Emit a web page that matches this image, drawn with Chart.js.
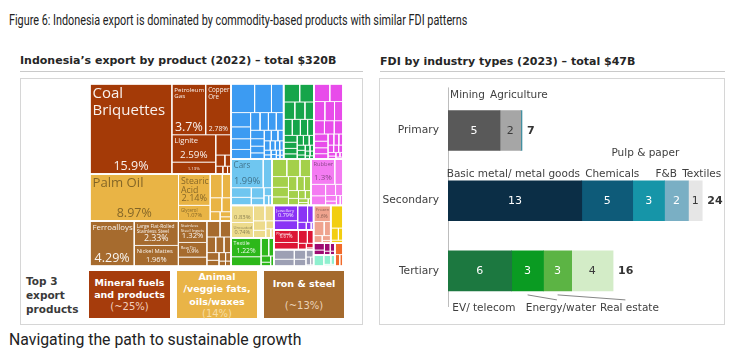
<!DOCTYPE html>
<html><head><meta charset="utf-8">
<script src="https://cdn.jsdelivr.net/npm/chart.js@4.4.0/dist/chart.umd.min.js"></script>
<style>
html,body{margin:0;padding:0;background:#fff;}
body{width:755px;height:356px;position:relative;overflow:hidden;font-family:"DejaVu Sans",sans-serif;}
.abs{position:absolute;white-space:nowrap;}
#title{left:9px;top:12px;font-family:Roboto;font-size:14px;line-height:16px;color:#222;transform-origin:0 0;}
#caption{left:9px;top:331px;font-family:Roboto;font-size:15.8px;line-height:18px;color:#222;}
.hdr{font-weight:bold;font-size:11px;line-height:13px;color:#262626;}
.rule{position:absolute;height:1px;background:#CACACA;}
.panel{position:absolute;border:1px solid #D6D6D6;box-sizing:border-box;}
.box{position:absolute;color:#fff;text-align:center;font-size:9.5px;box-sizing:border-box;white-space:nowrap;}
.box .sub{font-weight:normal;font-size:10px;}
#top3{left:26px;top:274px;font-weight:bold;font-size:10.5px;line-height:14px;color:#3A3A3A;}
</style></head>
<body>
<div id="title" class="abs">Figure 6: Indonesia export is dominated by commodity-based products with similar FDI patterns</div>

<div class="abs hdr" style="left:20px;top:54px;">Indonesia’s export by product (2022) – total $320B</div>
<div class="rule" style="left:20px;top:71px;width:343px;"></div>
<div class="panel" style="left:20px;top:78px;width:343px;height:247px;"></div>

<div class="abs hdr" style="left:380px;top:55px;">FDI by industry types (2023) – total $47B</div>
<div class="rule" style="left:380px;top:71px;width:345px;"></div>
<div class="panel" style="left:379px;top:78px;width:346px;height:247px;"></div>

<canvas id="tm" width="253" height="182" style="position:absolute;left:90px;top:84px;"></canvas>

<div id="top3" class="abs">Top 3<br>export<br>products</div>
<div class="box" style="left:89px;top:271px;width:81px;height:47px;background:#A63C0C;line-height:12px;padding-top:6px;"><b>Mineral fuels<br>and products</b><br><span class="sub" style="color:#F2D0BE;">(~25%)</span></div>
<div class="box" style="left:177px;top:271px;width:80px;height:47px;background:#E9B447;line-height:12.3px;padding-top:0px;"><b>Animal<br>/veggie fats,<br>oils/waxes</b><br><span class="sub" style="color:#F7DDA6;">(14%)</span></div>
<div class="box" style="left:264px;top:271px;width:80px;height:47px;background:#A46A2E;line-height:12px;padding-top:7px;"><b>Iron &amp; steel</b><div class="sub" style="margin-top:10px;color:#EBD3B8;">(~13%)</div></div>

<canvas id="fdi" width="344" height="244" style="position:absolute;left:380px;top:80px;"></canvas>

<div id="caption" class="abs">Navigating the path to sustainable growth</div>

<script>
// ================= TREEMAP DATA (share of total exports, %) =================
const mineralNames  = ['Coal Briquettes','Petroleum Gas','Copper Ore','Lignite','Refined Petroleum','Crude Petroleum'];
const mineralShares = [15.9,3.7,2.78,2.59,1.13,0.67,0.22,0.15,0.12,0.08,0.06];
const fatsNames  = ['Palm Oil','Stearic Acid','Glycerol','Coconut Oil'];
const fatsShares = [8.97,2.14,1.07,0.62,0.45,0.35,0.28,0.2,0.12,0.1];
const metalsNames  = ['Ferroalloys','Large Flat-Rolled Stainless Steel','Nickel Mattes','Stainless Steel Ingots','Raw Tin'];
const metalsShares = [4.29,2.33,1.96,1.32,0.90,0.55,0.45,0.38,0.3,0.28,0.24,0.2,0.15,0.12,0.1,0.07,0.06];
const machinesNames  = [];
const machinesShares = [1.45,1.04,0.75,0.6,0.5,0.45,0.4,0.36,0.32,0.3,0.28,0.25,0.22,0.2,0.18,0.16,0.15,0.13,0.12,0.1,0.09,0.08,0.07,0.06,0.05,0.05,0.04,0.04,0.03,0.03];
const textilesNames  = [];
const textilesShares = [0.62,0.55,0.42,0.38,0.34,0.3,0.28,0.25,0.22,0.2,0.18,0.16,0.15,0.13,0.12,0.1,0.09,0.08,0.07,0.06,0.05,0.05,0.04,0.03,0.03];
const chemicalsNames  = [];
const chemicalsShares = [0.6,0.5,0.45,0.4,0.35,0.3,0.28,0.25,0.22,0.2,0.18,0.16,0.14,0.12,0.1,0.09,0.08,0.07,0.06,0.05,0.04,0.03,0.03];
const transportNames  = ['Cars'];
const transportShares = [1.99,0.55,0.42,0.35,0.28,0.2,0.14,0.1,0.07];
const foodNames  = [];
const foodShares = [0.56,0.5,0.42,0.38,0.34,0.3,0.26,0.22,0.2,0.17,0.15,0.12,0.1,0.08,0.06,0.04];
const plasticsNames  = ['Rubber'];
const plasticsShares = [1.3,0.45,0.36,0.3,0.24,0.18,0.13,0.1,0.08,0.06];
const paperNames  = ['Sulfate Chemical Woodpulp','Uncoated Paper'];
const paperShares = [0.83,0.74,0.38,0.3,0.25,0.2,0.14,0.1,0.06];
const footwearNames  = ['Textile Footwear','Leather Footwear'];
const footwearShares = [1.22,0.6,0.3,0.2,0.13,0.08,0.07];
const preciousNames  = ['Jewellery','Gold'];
const preciousShares = [0.79,0.47,0.36,0.22,0.14,0.08,0.04];
const woodNames  = ['Plywood'];
const woodShares = [0.67,0.38,0.26,0.18,0.11,0.07,0.03];
const animalNames  = ['Frozen Fish'];
const animalShares = [0.6,0.32,0.2,0.14,0.09,0.05];
const miscNames  = ['Seats'];
const miscShares = [0.42,0.3,0.24,0.17,0.12,0.08,0.05,0.02];
const vegetableNames  = ['Coffee'];
const vegetableShares = [0.6,0.2,0.12,0.08];
const artsShares = [0.16,0.12,0.1,0.08,0.05,0.04];
const instrumentsShares = [0.24,0.14,0.08,0.04];
const stoneShares = [0.2,0.12,0.08];

const sectionNames = ['Mineral Products','Animal and Vegetable Bi-Products','Metals','Machines','Textiles','Chemical Products','Transportation','Foodstuffs','Plastics and Rubbers','Paper Goods','Footwear and Headwear','Precious Metals','Wood Products','Animal Products','Miscellaneous','Vegetable Products','Animal Hides','Instruments','Stone And Glass'];
const sectionProductNames = [mineralNames,fatsNames,metalsNames,machinesNames,textilesNames,chemicalsNames,transportNames,foodNames,plasticsNames,paperNames,footwearNames,preciousNames,woodNames,animalNames,miscNames,vegetableNames,[],[],[]];
const sectionProductShares = [mineralShares,fatsShares,metalsShares,machinesShares,textilesShares,chemicalsShares,transportShares,foodShares,plasticsShares,paperShares,footwearShares,preciousShares,woodShares,animalShares,miscShares,vegetableShares,artsShares,instrumentsShares,stoneShares];
// colours (style)
const sectionColors = ['#A43A07','#E9B445','#A66B2E','#3C9BF2','#16A54A','#E84CEA','#6FC6F0','#A4D04A','#F47CF2','#EDDB8C','#2DB81A','#8A33F5','#DC1535','#EFA38E','#9DA0B4','#F2CE10','#9E0A72','#8EF0CF','#F26A2A'];

// ================= FDI DATA (USD bn, 2023) =================
const fdiCategories = ['Primary','Secondary','Tertiary'];
const fdiSegments = ['Mining','Agriculture','Other primary','Basic metal/ metal goods','Chemicals','Pulp & paper','F&B','Textiles','EV/ telecom','Energy/water','Real estate','Other tertiary'];
const fdiSegmentCategory = [0,0,0,1,1,1,1,1,2,2,2,2];
const fdiValues = [4.9,1.95,0.12,12.6,4.8,3.0,2.25,1.3,6.0,3.0,2.65,3.9];
// styles
const fdiColors = ['#595959','#A6A6A6','#3F8FA0','#0B2E46','#0E5B79','#1695A8','#7AAFC4','#E6E6E6','#1C7840','#0A9B22','#5CB444','#D3ECC7'];
const fdiTextColors = ['#fff','#3A3A3A','#fff','#fff','#fff','#fff','#fff','#3A3A3A','#fff','#fff','#fff','#3A3A3A'];
const fdiLabelPlacement = [
  {dx:-6.5, dy:15}, {dx:8.5, dy:15}, null,
  {dx:-1.5, dy:6.5}, {dx:5, dy:6.5}, {dx:-3.3, dy:27}, {dx:-10.3, dy:6.5}, {dx:6.4, dy:6.5},
  {dx:4, dy:17, below:true}, {dx:33.3, dy:17, below:true, leader:true}, {dx:71.8, dy:17, below:true, leader:true}, null
];

Chart.defaults.font.family = '"DejaVu Sans", sans-serif';

// fit main title width (condensed look)
(function(){ const t = document.getElementById('title'); t.style.transform = 'scaleX(' + (458 / t.offsetWidth) + ')'; })();

// ================= TREEMAP =================
const TM_RATIO = 1.8, TM_BIAS = 1.1;
function squarify(nodes, x0, y0, x1, y1) {
  let value = nodes.reduce((s, n) => s + n.value, 0);
  let i0 = 0, i1 = 0; const n = nodes.length;
  while (i0 < n) {
    const dx = x1 - x0, dy = y1 - y0;
    let sum = nodes[i1++].value, minV = sum, maxV = sum;
    const alpha = Math.max(dy / dx, dx / dy) / (value * TM_RATIO);
    let beta = sum * sum * alpha;
    let minRatio = Math.max(maxV / beta, beta / minV);
    for (; i1 < n; ++i1) {
      const v = nodes[i1].value;
      sum += v; if (v < minV) minV = v; if (v > maxV) maxV = v;
      beta = sum * sum * alpha;
      const r = Math.max(maxV / beta, beta / minV);
      if (r > minRatio) { sum -= v; break; }
      minRatio = r;
    }
    const row = nodes.slice(i0, i1);
    if (dx < dy * TM_BIAS) {
      const ny = (i1 >= n) ? y1 : y0 + dy * sum / value; let x = x0;
      row.forEach(nd => { const w = (x1 - x0) * nd.value / sum; Object.assign(nd, {x0: x, x1: x + w, y0: y0, y1: ny}); x += w; });
      y0 = ny;
    } else {
      const nx = (i1 >= n) ? x1 : x0 + dx * sum / value; let y = y0;
      row.forEach(nd => { const h = (y1 - y0) * nd.value / sum; Object.assign(nd, {x0: x0, x1: nx, y0: y, y1: y + h}); y += h; });
      x0 = nx;
    }
    value -= sum; i0 = i1;
  }
}
function lum(hex){ const c = parseInt(hex.slice(1),16); return (0.299*(c>>16) + 0.587*((c>>8)&255) + 0.114*(c&255))/255; }

const tmLabelPlugin = {
  id: 'tmLabels',
  afterDatasetsDraw(chart) {
    const ctx = chart.ctx;
    const fam = '"Open Sans", sans-serif';
    const meas = (t, s) => { ctx.font = s + 'px ' + fam; return ctx.measureText(t).width; };
    ctx.save();
    chart.data.datasets.forEach((ds, di) => {
      if (!ds.cellLabel) return;
      const pts = chart.getDatasetMeta(di).data;
      const x0 = Math.min(pts[0].x, pts[2].x), x1 = Math.max(pts[0].x, pts[2].x);
      const y0 = Math.min(pts[0].y, pts[2].y), y1 = Math.max(pts[0].y, pts[2].y);
      const w = x1 - x0, h = y1 - y0;
      if (w < 12 || h < 10) return;
      const lab = ds.cellLabel;
      ctx.fillStyle = lum(ds.backgroundColor) > 0.6 ? 'rgba(0,0,0,0.45)' : 'rgba(255,255,255,0.93)';
      const words = lab.name.split(' ');
      let ns = Math.min(15, h * 0.28, words.length > 2 ? h * 0.2 : 99);
      words.forEach(wd => { ns = Math.min(ns, (w - 4) / meas(wd, 10) * 10); });
      const pctText = lab.pct + '%';
      const ps = Math.min(12.5, h * 0.36, (w - 6) / meas(pctText, 10) * 10);
      ctx.textBaseline = 'alphabetic';
      if (ns >= 3.5) {
        ctx.font = ns + 'px ' + fam;
        const lines = []; let cur = '';
        words.forEach(wd => { const t = cur ? cur + ' ' + wd : wd; if (ctx.measureText(t).width <= w - 4 || !cur) cur = t; else { lines.push(cur); cur = wd; } });
        if (cur) lines.push(cur);
        ctx.textAlign = 'left';
        lines.forEach((ln, i) => { const by = y0 + 3 + 0.75 * ns + i * 1.12 * ns; if (by < y1 - ps - 2) ctx.fillText(ln, x0 + 2.5, by); });
      }
      if (ps >= 3.5) {
        ctx.font = ps + 'px ' + fam; ctx.textAlign = 'center';
        ctx.fillText(pctText, (x0 + x1) / 2, y1 - 4);
      }
    });
    ctx.restore();
  }
};

const tmChart = new Chart(document.getElementById('tm'), {
  type: 'scatter',
  data: { datasets: [] },
  options: {
    responsive: false, animation: false, events: [],
    layout: { padding: 0 },
    plugins: { legend: { display: false }, tooltip: { enabled: false } },
    scales: { x: { type: 'linear', display: false, min: 0, max: 1 }, y: { type: 'linear', display: false, min: 0, max: 1, reverse: true } }
  },
  plugins: [tmLabelPlugin]
});

(function buildTreemap(){
  const area = tmChart.chartArea;
  const W = area.right - area.left, H = area.bottom - area.top;
  const sections = sectionNames.map((nm, i) => ({
    name: nm, color: sectionColors[i],
    children: sectionProductShares[i].map((v, j) => ({ value: v, name: sectionProductNames[i][j] || '' })),
  }));
  sections.forEach(s => { s.value = s.children.reduce((a, c) => a + c.value, 0); s.children.sort((a, b) => b.value - a.value); });
  sections.sort((a, b) => b.value - a.value);
  squarify(sections, 0, 0, W, H);
  sections.forEach(s => squarify(s.children, s.x0, s.y0, s.x1, s.y1));
  const rect = r => [{x:r.x0/W,y:r.y0/H},{x:r.x1/W,y:r.y0/H},{x:r.x1/W,y:r.y1/H},{x:r.x0/W,y:r.y1/H},{x:r.x0/W,y:r.y0/H}];
  const ds = [];
  sections.forEach(s => {
    s.children.forEach(c => {
      ds.push({ data: rect(c), showLine: true, fill: 'shape', backgroundColor: s.color, borderColor: '#ffffff', borderWidth: 0.8,
        borderJoinStyle: 'miter', pointRadius: 0, tension: 0, order: 1,
        cellLabel: c.name ? { name: c.name, pct: String(c.value) } : null });
    });
    ds.push({ data: rect(s), showLine: true, fill: false, backgroundColor: 'transparent', borderColor: '#ffffff', borderWidth: 1.6,
      borderJoinStyle: 'miter', pointRadius: 0, tension: 0, order: 0 });
  });
  tmChart.data.datasets = ds;
  tmChart.update();
})();

// ================= FDI STACKED BAR =================
const fdiLabelsPlugin = {
  id: 'fdiLabels',
  beforeDatasetsDraw(chart) {
    // category axis line, extended slightly above the first bar's label row
    const ctx = chart.ctx, a = chart.chartArea;
    ctx.save();
    ctx.strokeStyle = '#BDBDBD'; ctx.lineWidth = 1;
    ctx.beginPath(); ctx.moveTo(a.left + 0.5, a.top - 8); ctx.lineTo(a.left + 0.5, a.bottom + 1); ctx.stroke();
    ctx.restore();
  },
  afterDatasetsDraw(chart) {
    const ctx = chart.ctx;
    ctx.save();
    const ends = fdiCategories.map(() => 0);
    const totals = fdiCategories.map(() => 0);
    chart.data.datasets.forEach((ds, di) => {
      const cat = fdiSegmentCategory[di];
      const el = chart.getDatasetMeta(di).data[cat];
      const p = el.getProps(['x','y','base','height'], true);
      const left = Math.min(p.x, p.base), right = Math.max(p.x, p.base);
      ends[cat] = Math.max(ends[cat], right);
      totals[cat] += fdiValues[di];
      const cx = (left + right) / 2;
      if (fdiValues[di] >= 0.5) {
        ctx.font = '11px "DejaVu Sans"'; ctx.fillStyle = fdiTextColors[di];
        ctx.textAlign = 'center'; ctx.textBaseline = 'middle';
        ctx.fillText(String(Math.round(fdiValues[di])), cx, p.y + 0.5);
      }
      const lab = fdiLabelPlacement[di];
      if (lab) {
        const top = p.y - p.height / 2, bottom = p.y + p.height / 2;
        const lx = cx + lab.dx;
        const ly = lab.below ? bottom + lab.dy : top - lab.dy;
        ctx.font = '10.5px "DejaVu Sans"'; ctx.fillStyle = '#404040';
        ctx.textAlign = 'center'; ctx.textBaseline = 'middle';
        ctx.fillText(fdiSegments[di], lx, ly);
        if (lab.leader) {
          ctx.strokeStyle = '#666'; ctx.lineWidth = 0.8;
          ctx.beginPath(); ctx.moveTo(cx, bottom + 4); ctx.lineTo(lx - 4, bottom + 9); ctx.stroke();
        }
      }
    });
    ctx.font = 'bold 11px "DejaVu Sans"'; ctx.fillStyle = '#333';
    ctx.textAlign = 'left'; ctx.textBaseline = 'middle';
    fdiCategories.forEach((c, i) => {
      ctx.fillText(String(Math.round(totals[i])), ends[i] + 5, chart.scales.y.getPixelForValue(i) + 0.5);
    });
    ctx.restore();
  }
};

new Chart(document.getElementById('fdi'), {
  type: 'bar',
  data: {
    labels: fdiCategories,
    datasets: fdiSegments.map((s, i) => ({
      label: s,
      data: fdiCategories.map((c, ci) => ci === fdiSegmentCategory[i] ? fdiValues[i] : null),
      backgroundColor: fdiColors[i], borderWidth: 0, barThickness: 40, stack: 'all'
    }))
  },
  options: {
    indexAxis: 'y', responsive: false, animation: false, events: [],
    layout: { padding: { top: 11, bottom: 18, left: 0, right: 0 } },
    plugins: { legend: { display: false }, tooltip: { enabled: false } },
    scales: {
      x: { stacked: true, display: false, min: 0, max: 26 },
      y: { stacked: true, grid: { display: false, drawTicks: false },
           border: { display: false },
           ticks: { color: '#404040', font: { size: 10.7 }, padding: 9 },
           afterFit(s) { s.width = 68; } }
    }
  },
  plugins: [fdiLabelsPlugin]
});
</script>
</body></html>
